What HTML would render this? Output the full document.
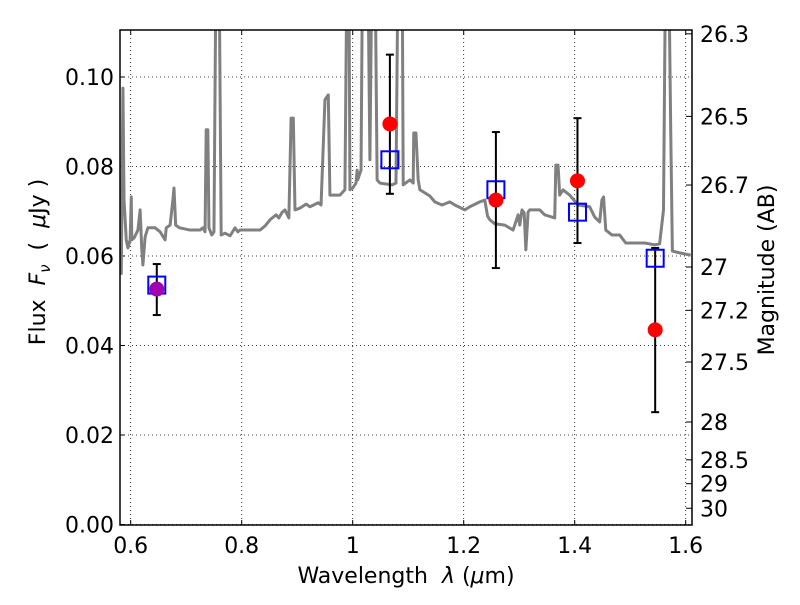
<!DOCTYPE html>
<html><head><meta charset="utf-8"><style>
body{margin:0;background:#fff}
svg text{font-family:"DejaVu Sans","Liberation Sans",sans-serif;fill:#000}
</style></head><body>
<svg id="c" width="800" height="600" xmlns="http://www.w3.org/2000/svg"></svg>
<script>
const specLam=[0.583,0.586,0.588,0.592,0.595,0.599,0.601,0.602,0.606,0.613,0.617,0.620,0.622,0.626,0.631,0.644,0.653,0.662,0.664,0.671,0.676,0.678,0.681,0.688,0.707,0.725,0.730,0.734,0.736,0.739,0.741,0.746,0.750,0.754,0.759,0.763,0.770,0.779,0.788,0.793,0.797,0.815,0.833,0.842,0.851,0.862,0.867,0.873,0.878,0.885,0.889,0.893,0.896,0.905,0.916,0.923,0.938,0.943,0.950,0.956,0.959,0.977,0.986,0.990,0.993,0.995,1.000,1.006,1.008,1.009,1.015,1.018,1.027,1.031,1.035,1.040,1.044,1.049,1.071,1.078,1.082,1.089,1.091,1.103,1.109,1.110,1.114,1.118,1.121,1.130,1.139,1.148,1.161,1.175,1.184,1.202,1.211,1.229,1.238,1.243,1.247,1.256,1.274,1.289,1.298,1.301,1.305,1.309,1.312,1.316,1.319,1.337,1.346,1.364,1.366,1.370,1.373,1.379,1.391,1.406,1.427,1.436,1.445,1.449,1.452,1.456,1.467,1.481,1.492,1.508,1.526,1.544,1.553,1.560,1.564,1.569,1.573,1.576,1.589,1.609];
const specFlux=[0.0558,0.0975,0.0725,0.0636,0.0618,0.0636,0.0732,0.0636,0.0640,0.0658,0.0703,0.0614,0.0580,0.0643,0.0663,0.0663,0.0654,0.0636,0.0663,0.0669,0.0725,0.0752,0.0669,0.0663,0.0658,0.0658,0.0663,0.0654,0.0882,0.0882,0.0663,0.0647,0.0654,0.13,0.13,0.0647,0.0651,0.0645,0.0663,0.0654,0.0658,0.0658,0.0658,0.0667,0.0681,0.0692,0.0685,0.0698,0.0703,0.0685,0.0908,0.0908,0.0703,0.0707,0.0716,0.0710,0.0719,0.0714,0.0949,0.0960,0.0736,0.0736,0.0748,0.13,0.13,0.0748,0.0752,0.0763,0.0792,0.0770,0.0792,0.13,0.13,0.0815,0.13,0.13,0.0770,0.0763,0.0759,0.0763,0.13,0.13,0.0759,0.0770,0.0763,0.0875,0.0875,0.0770,0.0748,0.0741,0.0734,0.0721,0.0714,0.0721,0.0714,0.0703,0.0710,0.0721,0.0725,0.0689,0.0681,0.0672,0.0669,0.0658,0.0692,0.0669,0.0703,0.0696,0.0614,0.0698,0.0703,0.0703,0.0692,0.0685,0.0803,0.0803,0.0736,0.0748,0.0736,0.0714,0.0710,0.0687,0.0676,0.0725,0.0732,0.0658,0.0647,0.0647,0.0629,0.0629,0.0629,0.0625,0.0627,0.0703,0.13,0.13,0.0882,0.0611,0.0607,0.0602];
const obsLam=[0.647,1.067,1.258,1.405,1.545];
const obsFlux=[0.0526,0.0895,0.0725,0.0768,0.0435];
const obsErrLo=[0.0468,0.0739,0.0573,0.0629,0.0251];
const obsErrHi=[0.0582,0.105,0.0877,0.0908,0.0618];
const modelFlux=[0.0535,0.0815,0.0748,0.0698,0.0595];
const xTicks=[0.6,0.8,1.0,1.2,1.4,1.6];
const xTickLabels=["0.6","0.8","1","1.2","1.4","1.6"];
const yTicks=[0,0.02,0.04,0.06,0.08,0.10];
const yTickLabels=["0.00","0.02","0.04","0.06","0.08","0.10"];
const magTicks=[26.3,26.5,26.7,27,27.2,27.5,28,28.5,29,30];
const magLabels=["26.3","26.5","26.7","27","27.2","27.5","28","28.5","29","30"];

const L=120,R=692,T=30,B=525;
const X=v=>130.7+(v-0.6)*555;
const Y=v=>524.5-v*4475;
const svg=document.getElementById('c');
const NS='http://www.w3.org/2000/svg';
function mk(t,a,p){const e=document.createElementNS(NS,t);for(const k in a)e.setAttribute(k,a[k]);(p||svg).appendChild(e);return e;}
const defs=mk('defs',{});
const cp=mk('clipPath',{id:'clip'},defs);mk('rect',{x:L,y:T,width:R-L,height:B-T},cp);

xTicks.forEach((v,i)=>{
  const g=mk('line',{x1:X(v),x2:X(v),y1:T,y2:B,stroke:'#000','stroke-width':0.8,'stroke-dasharray':'1,3'});
  
  
  mk('line',{x1:X(v),x2:X(v),y1:B,y2:B-5,stroke:'#000'});
  mk('line',{x1:X(v),x2:X(v),y1:T,y2:T+5,stroke:'#000'});
  const t=mk('text',{x:X(v),y:B+28,'font-size':22,'text-anchor':'middle'});t.textContent=xTickLabels[i];
  
  
});
yTicks.forEach((v,i)=>{
  const g=mk('line',{x1:L,x2:R,y1:Y(v),y2:Y(v),stroke:'#000','stroke-width':0.8,'stroke-dasharray':'1,3'});
  
  
  mk('line',{x1:L,x2:L+5,y1:Y(v),y2:Y(v),stroke:'#000'});
  const t=mk('text',{x:L-6,y:Y(v)+8,'font-size':22,'text-anchor':'end'});t.textContent=yTickLabels[i];
  
  
});
magTicks.forEach((m,i)=>{
  const f=Math.pow(10,-0.4*(m-23.9));const y=Y(f);
  mk('line',{x1:R,x2:R-6,y1:y,y2:y,stroke:'#000'});
  const t=mk('text',{x:R+8,y:y+8,'font-size':22});t.textContent=magLabels[i];
  
  
});

const g=mk('g',{'clip-path':'url(#clip)'});
const sp=mk('polyline',{points:specLam.map((l,i)=>X(l)+','+Y(specFlux[i])).join(' '),fill:'none',stroke:'#808080','stroke-width':3,'stroke-linejoin':'round'},g);



obsLam.forEach((l,i)=>{
  const x=X(l);
  const e=mk('g',{stroke:'#000','stroke-width':2},g);
  
  
  mk('line',{x1:x,x2:x,y1:Y(obsErrLo[i]),y2:Y(obsErrHi[i])},e);
  mk('line',{x1:x-4,x2:x+4,y1:Y(obsErrLo[i]),y2:Y(obsErrLo[i])},e);
  mk('line',{x1:x-4,x2:x+4,y1:Y(obsErrHi[i]),y2:Y(obsErrHi[i])},e);
});
obsLam.forEach((l,i)=>{
  const s=mk('rect',{x:X(l)-8.5,y:Y(modelFlux[i])-8.5,width:17,height:17,fill:'none',stroke:'#0000ff','stroke-width':2},g);
  
  
});
obsLam.forEach((l,i)=>{
  const c=mk('circle',{cx:X(l),cy:Y(obsFlux[i]),r:7.5,fill:i===0?'#a000b0':'#ff0000'},g);
  
  
});

const fr=mk('rect',{x:L,y:T,width:R-L,height:B-T,fill:'none',stroke:'#000','stroke-width':1.5});



const xl=mk('text',{x:406,y:583,'font-size':22,'text-anchor':'middle'});
xl.innerHTML='Wavelength&#160;&#160;<tspan font-style="italic">λ</tspan> (<tspan font-style="italic">μ</tspan>m)';


const yl=mk('text',{x:0,y:0,'font-size':22,'text-anchor':'middle',transform:'translate(45,262) rotate(-90)'});
yl.innerHTML='Flux&#160;&#160;<tspan font-style="italic">F</tspan><tspan font-style="italic" font-size="15" dy="5">ν</tspan><tspan dy="-5">&#160;&#160;(&#160;&#160;</tspan><tspan font-style="italic">μ</tspan>Jy )';


const ml=mk('text',{x:0,y:0,'font-size':22,'text-anchor':'middle',transform:'translate(774,270) rotate(-90)'});
ml.textContent='Magnitude (AB)';


</script>
</body></html>
